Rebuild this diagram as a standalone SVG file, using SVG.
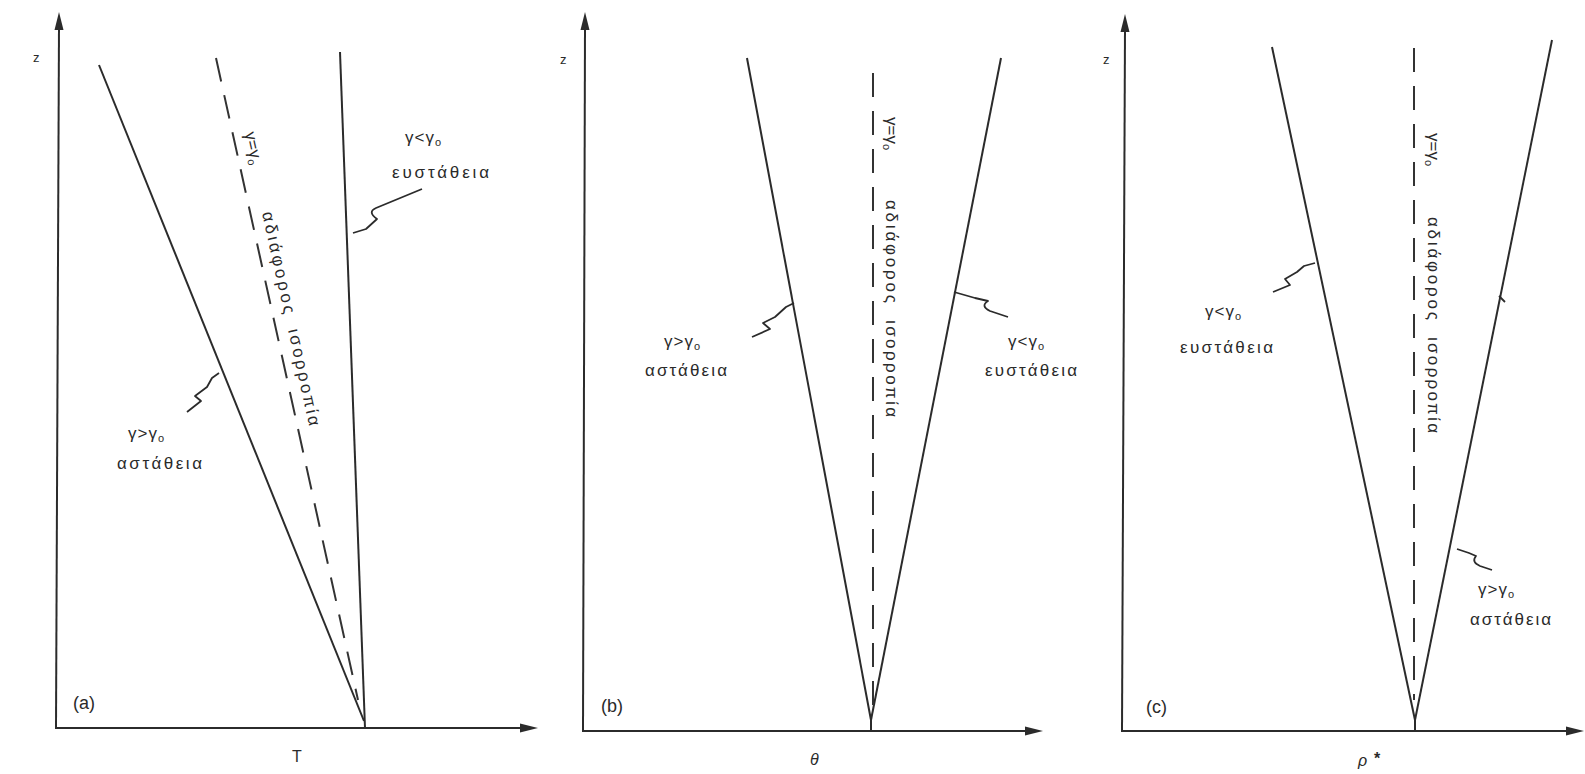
<svg xmlns="http://www.w3.org/2000/svg" width="1585" height="774" viewBox="0 0 1585 774">
<style>
.ax{stroke:#2b2b2b;stroke-width:2;fill:none}
.ln{stroke:#2b2b2b;stroke-width:2;fill:none}
.ds{stroke:#333;stroke-width:2;fill:none;stroke-dasharray:24 14}
.sq{stroke:#2b2b2b;stroke-width:1.8;fill:none;stroke-linejoin:round}
.ah{fill:#2b2b2b}
text{font-family:"Liberation Sans","DejaVu Sans",sans-serif;fill:#2a2a2a}
.lb{font-size:17px;letter-spacing:1px}
.sb{font-size:11px}
.vt{font-size:17px}
.ttl{font-size:18px}
.axl{font-size:16px}
.z{font-size:13px}
</style>
<rect width="1585" height="774" fill="#fff"/>

<g id="panel-a">
  <g id="a-axes">
    <line class="ax" x1="59" y1="26" x2="56" y2="728"/>
    <polygon class="ah" points="59,12 54.5,30 63.5,30"/>
    <line class="ax" x1="55" y1="728" x2="522" y2="728"/>
    <polygon class="ah" points="538,728 520,723.5 520,732.5"/>
    <text class="z" x="33" y="62">z</text>
    <text class="axl" x="292" y="762">T</text>
    <text class="ttl" x="73" y="709">(a)</text>
  </g>
  <g id="a-curves">
    <line class="ln" x1="99" y1="65" x2="364" y2="721"/>
    <line class="ln" x1="340" y1="52" x2="365" y2="728"/>
    <line class="ds" x1="216" y1="58" x2="358" y2="700"/>
  </g>
  <g id="a-dashed-label">
    <text class="vt" transform="translate(244.5,133) rotate(77.6)">γ=γ<tspan class="sb" dy="3">ο</tspan></text>
    <text class="vt" transform="translate(262,213) rotate(77.6)" textLength="104" lengthAdjust="spacing">αδιάφορος</text>
    <text class="vt" transform="translate(288,330) rotate(77.6)" textLength="99" lengthAdjust="spacing">ισορροπία</text>
  </g>
  <g id="a-stable">
    <text class="lb" x="405" y="143">γ&lt;γ<tspan class="sb" dy="3">ο</tspan></text>
    <text class="lb" x="392" y="178" textLength="98" lengthAdjust="spacing">ευστάθεια</text>
  </g>
  <g id="a-unstable">
    <text class="lb" x="128" y="439">γ&gt;γ<tspan class="sb" dy="3">ο</tspan></text>
    <text class="lb" x="117" y="469" textLength="86" lengthAdjust="spacing">αστάθεια</text>
  </g>
</g>

<g id="panel-b">
  <g id="b-axes">
    <line class="ax" x1="585" y1="26" x2="583" y2="731"/>
    <polygon class="ah" points="585,12 580.5,30 589.5,30"/>
    <line class="ax" x1="582" y1="731" x2="1027" y2="731"/>
    <polygon class="ah" points="1043,731 1025,726.5 1025,735.5"/>
    <text class="z" x="560" y="64">z</text>
    <text class="axl" x="810" y="765" font-style="italic">θ</text>
    <text class="ttl" x="601" y="712">(b)</text>
  </g>
  <g id="b-curves">
    <line class="ln" x1="747" y1="58" x2="871" y2="720"/>
    <line class="ln" x1="1001" y1="58" x2="871" y2="720"/>
    <line class="ln" x1="871" y1="718" x2="871" y2="731"/>
    <line class="ds" x1="873" y1="73" x2="873" y2="712"/>
  </g>
  <g id="b-dashed-label">
    <text class="vt" transform="translate(886,117) rotate(90)">γ=γ<tspan class="sb" dy="3">ο</tspan></text>
    <text class="vt" transform="translate(886,200) rotate(90)" textLength="103" lengthAdjust="spacing">αδιάφορος</text>
    <text class="vt" transform="translate(886,320) rotate(90)" textLength="97" lengthAdjust="spacing">ισορροπία</text>
  </g>
  <g id="b-unstable">
    <text class="lb" x="664" y="347">γ&gt;γ<tspan class="sb" dy="3">ο</tspan></text>
    <text class="lb" x="645" y="376" textLength="83" lengthAdjust="spacing">αστάθεια</text>
  </g>
  <g id="b-stable">
    <text class="lb" x="1008" y="347">γ&lt;γ<tspan class="sb" dy="3">ο</tspan></text>
    <text class="lb" x="985" y="376" textLength="93" lengthAdjust="spacing">ευστάθεια</text>
  </g>
</g>

<g id="panel-c">
  <g id="c-axes">
    <line class="ax" x1="1125" y1="28" x2="1122" y2="731"/>
    <polygon class="ah" points="1125,14 1120.5,32 1129.5,32"/>
    <line class="ax" x1="1121" y1="731" x2="1568" y2="731"/>
    <polygon class="ah" points="1584,731 1566,726.5 1566,735.5"/>
    <text class="z" x="1103" y="64">z</text>
    <text class="axl" x="1358" y="766" font-style="italic">ρ</text>
    <text class="axl" x="1374" y="764" font-weight="bold">*</text>
    <text class="ttl" x="1146" y="713">(c)</text>
  </g>
  <g id="c-curves">
    <line class="ln" x1="1272" y1="47" x2="1415" y2="720"/>
    <line class="ln" x1="1552" y1="40" x2="1415" y2="720"/>
    <line class="ln" x1="1415" y1="718" x2="1415" y2="731"/>
    <line class="ds" x1="1414" y1="48" x2="1414" y2="700"/>
    <line class="sq" x1="1499" y1="296" x2="1505" y2="302"/>
  </g>
  <g id="c-dashed-label">
    <text class="vt" transform="translate(1428,133) rotate(90)">γ=γ<tspan class="sb" dy="3">ο</tspan></text>
    <text class="vt" transform="translate(1428,217) rotate(90)" textLength="103" lengthAdjust="spacing">αδιάφορος</text>
    <text class="vt" transform="translate(1428,337) rotate(90)" textLength="96" lengthAdjust="spacing">ισορροπία</text>
  </g>
  <g id="c-stable">
    <text class="lb" x="1205" y="317">γ&lt;γ<tspan class="sb" dy="3">ο</tspan></text>
    <text class="lb" x="1180" y="353" textLength="94" lengthAdjust="spacing">ευστάθεια</text>
  </g>
  <g id="c-unstable">
    <text class="lb" x="1478" y="595">γ&gt;γ<tspan class="sb" dy="3">ο</tspan></text>
    <text class="lb" x="1470" y="625" textLength="82" lengthAdjust="spacing">αστάθεια</text>
  </g>
</g>

<g id="connectors">
  <path class="sq" d="M422,189 L376,208 Q367,212 377,219 L366,229 L353,233"/>
  <path class="sq" d="M187,412 L201,401 L195,396 L207,387 L212,378 L219,373"/>
  <path class="sq" d="M752,337 L770,329 L763,323 L775,317 L786,307 L794,303"/>
  <path class="sq" d="M1008,317 L990,311 Q980,306 988,301 L975,298 L954,292"/>
  <path class="sq" d="M1273,292 L1290,285 L1285,279 L1297,272 L1304,266 L1315,263"/>
  <path class="sq" d="M1492,570 L1480,566 Q1471,562 1476,556 L1469,553 L1457,549"/>
</g>
</svg>
